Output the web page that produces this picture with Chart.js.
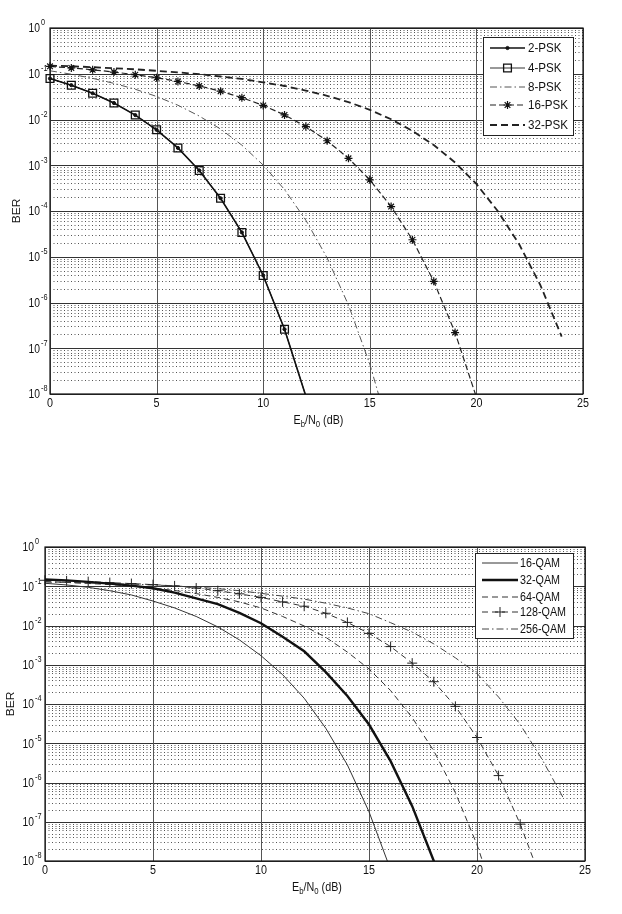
<!DOCTYPE html>
<html>
<head>
<meta charset="utf-8">
<script src="https://cdn.jsdelivr.net/npm/chart.js@4.4.1/dist/chart.umd.min.js"></script>
<style>
  body { margin: 0; background: #fff; }
  #wrap { position: relative; width: 622px; height: 914px; overflow: hidden; }
  canvas { position: absolute; left: 0; }
  #pskChart { top: 0; }
  #qamChart { top: 460px; }
</style>
</head>
<body>
<div id="wrap">
  <canvas id="pskChart" width="622" height="460"></canvas>
  <canvas id="qamChart" width="622" height="454"></canvas>
</div>
<script>
// Eb/N0 in dB, one value per integer step
const ebno = [0, 1, 2, 3, 4, 5, 6, 7, 8, 9, 10, 11, 12, 13, 14, 15, 16, 17, 18, 19, 20, 21, 22, 23, 24];
const xTicks = [0, 5, 10, 15, 20, 25];
const decades = [0, -1, -2, -3, -4, -5, -6, -7, -8];

// top chart: M-PSK
const pskNames = ["2-PSK", "4-PSK", "8-PSK", "16-PSK", "32-PSK"];
const ber2psk = [0.0786, 0.0563, 0.0375, 0.0229, 0.0125, 0.00595, 0.00239, 7.7e-4, 1.9e-4, 3.4e-5, 3.9e-6, 2.6e-7, 9.0e-9];
const ber4psk = [0.0786, 0.0563, 0.0375, 0.0229, 0.0125, 0.00595, 0.00239, 7.7e-4, 1.9e-4, 3.4e-5, 3.9e-6, 2.6e-7, 9.0e-9];
const ber8psk = [0.116, 0.0977, 0.0793, 0.0617, 0.0458, 0.0319, 0.0205, 0.0119, 0.00618, 0.00275, 0.00101, 2.94e-4, 6.3e-5, 9.4e-6, 8.8e-7, 4.5e-8, 1.1e-9];
const ber16psk = [0.145, 0.134, 0.122, 0.109, 0.0954, 0.0817, 0.0678, 0.0542, 0.0415, 0.0300, 0.0203, 0.0126, 0.0070, 0.00343, 0.00142, 4.8e-4, 1.25e-4, 2.35e-5, 2.9e-6, 2.2e-7, 8.5e-9];
const ber32psk = [0.151, 0.146, 0.139, 0.132, 0.125, 0.116, 0.107, 0.098, 0.087, 0.077, 0.065, 0.054, 0.043, 0.033, 0.024, 0.0163, 0.0101, 0.00565, 0.00276, 0.00115, 3.9e-4, 1.0e-4, 1.9e-5, 2.4e-6, 1.8e-7];

// bottom chart: M-QAM
const qamNames = ["16-QAM", "32-QAM", "64-QAM", "128-QAM", "256-QAM"];
const ber16qam = [0.119, 0.108, 0.094, 0.077, 0.060, 0.042, 0.028, 0.017, 0.0092, 0.0043, 0.0017, 5.6e-4, 1.4e-4, 2.4e-5, 2.8e-6, 1.8e-7, 6e-9];
const ber32qam = [0.148, 0.141, 0.129, 0.117, 0.104, 0.089, 0.069, 0.049, 0.035, 0.021, 0.0114, 0.0052, 0.0022, 6.5e-4, 1.6e-4, 3.0e-5, 3.5e-6, 2.5e-7, 1.0e-8, 2e-10];
const ber64qam = [0.132, 0.125, 0.118, 0.110, 0.101, 0.090, 0.078, 0.065, 0.052, 0.040, 0.028, 0.017, 0.0097, 0.0050, 0.0021, 7.8e-4, 2.2e-4, 4.5e-5, 6.4e-6, 5.5e-7, 2.6e-8, 6e-10];
const ber128qam = [0.142, 0.137, 0.131, 0.124, 0.117, 0.110, 0.102, 0.090, 0.077, 0.064, 0.052, 0.040, 0.031, 0.0205, 0.012, 0.0063, 0.0029, 0.0011, 3.7e-4, 8.7e-5, 1.4e-5, 1.5e-6, 8.7e-8, 3e-9];
const ber256qam = [0.128, 0.125, 0.121, 0.117, 0.113, 0.108, 0.102, 0.095, 0.087, 0.077, 0.066, 0.056, 0.047, 0.037, 0.028, 0.020, 0.0118, 0.0068, 0.0034, 0.0015, 6e-4, 1.5e-4, 3.0e-5, 4e-6, 4e-7];

const SQUEEZE = 0.86; // the scanned figure is a bit narrow
const FONT = "'Liberation Sans', Arial, sans-serif";
const INK = "#111";
const BER_MIN = 1e-8;

function drawText(ctx, text, x, y, size, align, angle) {
    ctx.save();
    ctx.translate(x, y);
    ctx.scale(SQUEEZE, 1);
    if (angle) ctx.rotate(angle);
    ctx.font = size + "px " + FONT;
    ctx.textAlign = align || "left";
    ctx.textBaseline = "middle";
    ctx.fillStyle = INK;
    ctx.fillText(text, 0, 0);
    ctx.restore();
}

function textWidth(ctx, text, size) {
    ctx.save();
    ctx.font = size + "px " + FONT;
    const w = ctx.measureText(text).width * SQUEEZE;
    ctx.restore();
    return w;
}

// "E_b/N_0 (dB)" with subscripts
function drawEbNo(ctx, cx, y) {
    const parts = [["E", 12.5, 0], ["b", 9, 4], ["/N", 12.5, 0], ["0", 9, 4], [" (dB)", 12.5, 0]];
    let total = 0;
    parts.forEach(p => total += textWidth(ctx, p[0], p[1]));
    let x = cx - total / 2;
    parts.forEach(p => {
        drawText(ctx, p[0], x, y + p[2], p[1], "left");
        x += textWidth(ctx, p[0], p[1]);
    });
}

function series(values, label, style) {
    const ds = Object.assign({
        label: label,
        data: values.map((v, i) => ({x: ebno[i], y: v})),
        borderColor: "#222",
        borderWidth: 1,
        borderDash: [],
        markerSize: 0,
        pointStyle: "circle",
        pointBorderWidth: 1,
        pointBorderColor: "#222",
        pointBackgroundColor: "rgba(0,0,0,0)",
        fill: false,
        tension: 0,
        clip: {left: 8, top: 0, right: 8, bottom: 0}
    }, style);
    // like matlab: no marker once the point falls below the axis
    ds.pointRadius = c => (c.raw && c.raw.y < BER_MIN) ? 0 : ds.markerSize;
    ds.pointHoverRadius = 0;
    return ds;
}

const berPlugin = {
    id: "berPlugin",
    beforeDatasetsDraw(chart) {
        const {ctx, chartArea: a, scales: {x, y}} = chart;
        ctx.save();
        ctx.lineWidth = 1;
        // minor log grid, dotted
        ctx.strokeStyle = "#555";
        ctx.setLineDash([1, 2.5]);
        for (let e = -8; e < 0; e++) {
            for (let m = 2; m <= 9; m++) {
                const py = Math.round(y.getPixelForValue(m * Math.pow(10, e))) + 0.5;
                ctx.beginPath();
                ctx.moveTo(a.left, py);
                ctx.lineTo(a.right, py);
                ctx.stroke();
            }
        }
        ctx.setLineDash([]);
        // decade lines
        ctx.strokeStyle = "#333";
        ctx.lineWidth = 1.2;
        decades.forEach(e => {
            const py = Math.round(y.getPixelForValue(Math.pow(10, e))) + 0.5;
            ctx.beginPath();
            ctx.moveTo(a.left, py);
            ctx.lineTo(a.right, py);
            ctx.stroke();
        });
        // vertical lines at labelled ticks
        ctx.strokeStyle = "#555";
        ctx.lineWidth = 1;
        xTicks.forEach(t => {
            const px = Math.round(x.getPixelForValue(t)) + 0.5;
            ctx.beginPath();
            ctx.moveTo(px, a.top);
            ctx.lineTo(px, a.bottom);
            ctx.stroke();
        });
        ctx.restore();
    },
    afterDraw(chart, args, opts) {
        const {ctx, chartArea: a, scales: {x, y}} = chart;
        ctx.save();
        ctx.strokeStyle = "#111";
        ctx.lineWidth = 1.2;
        ctx.strokeRect(a.left, a.top, a.right - a.left, a.bottom - a.top);
        ctx.restore();

        // tick labels
        xTicks.forEach(t => drawText(ctx, String(t), x.getPixelForValue(t), a.bottom + 10, 12.5, "center"));
        decades.forEach(e => {
            const py = y.getPixelForValue(Math.pow(10, e));
            drawText(ctx, "10", a.left - opts.yGap, py + 1, 12, "right");
            drawText(ctx, String(e), a.left - opts.yGap + 1, py - 5, 8.5, "left");
        });

        // axis titles
        drawEbNo(ctx, (a.left + a.right) / 2 + 2, a.bottom + 27);
        drawText(ctx, "BER", opts.berX, (a.top + a.bottom) / 2, 12, "center", -Math.PI / 2);

        // legend box
        const b = opts.box;
        ctx.save();
        ctx.fillStyle = "#fff";
        ctx.fillRect(b[0], b[1], b[2], b[3]);
        ctx.strokeStyle = "#222";
        ctx.lineWidth = 1;
        ctx.strokeRect(b[0] + 0.5, b[1] + 0.5, b[2], b[3]);
        ctx.restore();
        chart.data.datasets.forEach((ds, i) => {
            const ry = opts.rows[i];
            ctx.save();
            ctx.strokeStyle = ds.borderColor;
            ctx.lineWidth = ds.borderWidth;
            ctx.setLineDash(ds.borderDash);
            ctx.beginPath();
            ctx.moveTo(opts.lineX[0], ry);
            ctx.lineTo(opts.lineX[1], ry);
            ctx.stroke();
            if (ds.markerSize > 0) {
                ctx.setLineDash([]);
                ctx.strokeStyle = ds.pointBorderColor;
                ctx.fillStyle = ds.pointBackgroundColor;
                ctx.lineWidth = ds.pointBorderWidth;
                Chart.helpers.drawPoint(ctx, {
                    pointStyle: ds.pointStyle,
                    radius: ds.markerSize,
                    rotation: 0,
                    borderWidth: ds.pointBorderWidth
                }, (opts.lineX[0] + opts.lineX[1]) / 2, ry);
            }
            ctx.restore();
            drawText(ctx, ds.label, opts.textX, ry + 0.5, opts.fontSize, "left");
        });
    }
};

function berChart(id, padding, datasets, legendOpts) {
    return new Chart(document.getElementById(id), {
        type: "line",
        data: {datasets: datasets},
        options: {
            responsive: false,
            animation: false,
            layout: {padding: padding},
            scales: {
                x: {type: "linear", min: 0, max: 25, display: false},
                y: {type: "logarithmic", min: BER_MIN, max: 1, display: false}
            },
            plugins: {
                legend: {display: false},
                tooltip: {enabled: false},
                berPlugin: legendOpts
            }
        },
        plugins: [berPlugin]
    });
}

berChart("pskChart", {left: 50, top: 28, right: 39, bottom: 66}, [
    series(ber2psk, pskNames[0], {borderColor: "#111", borderWidth: 1.6, markerSize: 1.6,
        pointBorderColor: "#111", pointBackgroundColor: "#111"}),
    series(ber4psk, pskNames[1], {borderColor: "#333", borderWidth: 1, markerSize: 5.5,
        pointStyle: "rect", pointBorderWidth: 1.3, pointBorderColor: "#111"}),
    series(ber8psk, pskNames[2], {borderColor: "#555", borderWidth: 1, borderDash: [7, 3, 1.5, 3]}),
    series(ber16psk, pskNames[3], {borderColor: "#222", borderWidth: 1.2, borderDash: [6, 3],
        markerSize: 4, pointStyle: "star", pointBorderWidth: 1.2, pointBorderColor: "#111"}),
    series(ber32psk, pskNames[4], {borderColor: "#222", borderWidth: 1.8, borderDash: [7, 4]})
], {
    yGap: 10, berX: 17,
    box: [483, 37, 90, 98], rows: [48, 68, 87, 105, 125],
    lineX: [490, 525], textX: 528, fontSize: 13.5
});

berChart("qamChart", {left: 45, top: 87, right: 37, bottom: 53}, [
    series(ber16qam, qamNames[0], {borderColor: "#333", borderWidth: 1}),
    series(ber32qam, qamNames[1], {borderColor: "#111", borderWidth: 2.4}),
    series(ber64qam, qamNames[2], {borderColor: "#333", borderWidth: 1, borderDash: [6, 4]}),
    series(ber128qam, qamNames[3], {borderColor: "#333", borderWidth: 1, borderDash: [6, 4],
        markerSize: 5, pointStyle: "cross", pointBorderWidth: 1, pointBorderColor: "#222"}),
    series(ber256qam, qamNames[4], {borderColor: "#444", borderWidth: 1, borderDash: [7, 3, 1.5, 3]})
], {
    yGap: 11, berX: 11,
    box: [475, 93, 98, 85], rows: [103, 120, 137, 152, 169],
    lineX: [482, 518], textX: 520, fontSize: 12.5
});
</script>
</body>
</html>
